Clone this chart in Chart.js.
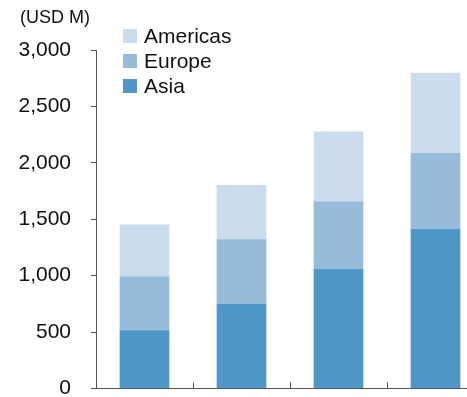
<!DOCTYPE html>
<html>
<head>
<meta charset="utf-8">
<script src="https://cdn.jsdelivr.net/npm/chart.js@4.4.0/dist/chart.umd.min.js"></script>
<style>
  html, body { margin: 0; padding: 0; overflow: hidden; background: #fff; }
  #wrap { width: 467px; height: 397px; overflow: hidden; }
</style>
</head>
<body>
<div id="wrap"><canvas id="regionChart" width="484" height="421"></canvas></div>
<script>
'use strict';

var periods = ['1', '2', '3', '4'];
var asia = [510, 745, 1055, 1410];
var europe = [480, 575, 600, 675];
var americas = [460, 480, 620, 710];
var yTicks = [0, 500, 1000, 1500, 2000, 2500, 3000];
var unitLabel = '(USD M)';

var FONT = '"Liberation Sans", Arial, sans-serif';
var axisColor = '#555';

// legend drawn in the top-left corner, above the plot area
var cornerText = {
    id: 'cornerText',
    afterDraw: function (chart) {
        var ctx = chart.ctx;
        ctx.save();
        ctx.fillStyle = '#111';
        ctx.font = '18px ' + FONT;
        ctx.textAlign = 'left';
        ctx.textBaseline = 'middle';
        ctx.fillText(unitLabel, 20, 18);

        var sets = chart.data.datasets.slice().reverse();
        ctx.font = '21px ' + FONT;
        sets.forEach(function (ds, i) {
            var cy = 36 + i * 25;
            ctx.fillStyle = ds.backgroundColor;
            ctx.fillRect(123, cy - 7, 14, 14);
            ctx.fillStyle = '#111';
            ctx.fillText(ds.label, 144, cy + 1);
        });
        ctx.restore();
    }
};

// short upward marks between categories on the x axis
var xMarks = {
    id: 'xMarks',
    afterDraw: function (chart) {
        var x = chart.scales.x;
        var bottom = chart.chartArea.bottom;
        var ctx = chart.ctx;
        ctx.save();
        ctx.strokeStyle = axisColor;
        ctx.lineWidth = 1;
        for (var i = 0; i < periods.length - 1; i++) {
            var px = Math.round((x.getPixelForValue(i) + x.getPixelForValue(i + 1)) / 2) + 0.5;
            ctx.beginPath();
            ctx.moveTo(px, bottom);
            ctx.lineTo(px, bottom - 6);
            ctx.stroke();
        }
        ctx.restore();
    }
};

var regionChart = new Chart(document.getElementById('regionChart'), {
    type: 'bar',
    data: {
        labels: periods,
        datasets: [
            { label: 'Asia', data: asia, backgroundColor: '#4F96C9', barThickness: 49 },
            { label: 'Europe', data: europe, backgroundColor: '#96BCD9', barThickness: 49 },
            { label: 'Americas', data: americas, backgroundColor: '#CBDDEC', barThickness: 49 }
        ]
    },
    options: {
        responsive: false,
        animation: false,
        layout: { padding: { top: 50, bottom: 0, left: 0, right: 0 } },
        plugins: {
            legend: { display: false },
            tooltip: { enabled: false }
        },
        scales: {
            x: {
                stacked: true,
                afterFit: function (scale) { scale.height = 14; },
                grid: { display: false },
                border: { display: true, color: axisColor, width: 1 },
                ticks: { display: false }
            },
            y: {
                stacked: true,
                min: 0,
                max: 3000,
                afterFit: function (scale) { scale.width = 96; },
                afterBuildTicks: function (scale) {
                    scale.ticks = yTicks.map(function (v) { return { value: v }; });
                },
                grid: {
                    drawOnChartArea: false,
                    drawTicks: true,
                    tickLength: 5,
                    color: axisColor
                },
                border: { display: true, color: axisColor, width: 1 },
                ticks: {
                    padding: 20,
                    color: '#111',
                    font: { family: FONT, size: 21 },
                    callback: function (v) { return v.toLocaleString('en-US'); }
                }
            }
        }
    },
    plugins: [cornerText, xMarks]
});
</script>
</body>
</html>
